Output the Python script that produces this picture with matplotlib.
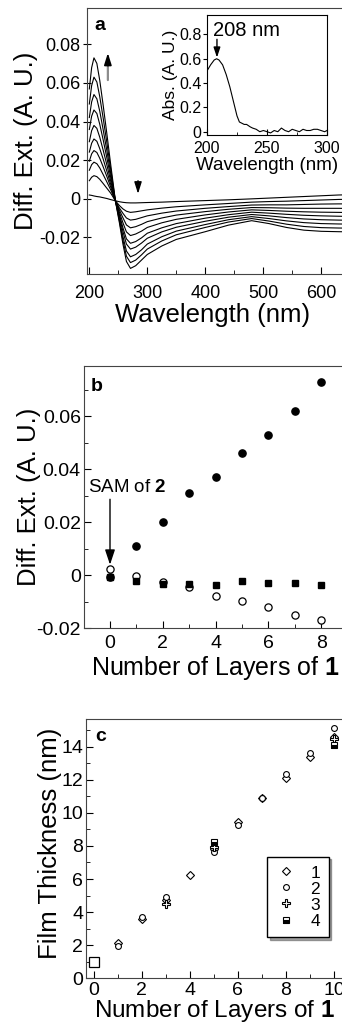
import numpy as np
import matplotlib
matplotlib.use('Agg')
import matplotlib.pyplot as plt
from matplotlib.ticker import MultipleLocator, FuncFormatter

plt.rcParams['font.family'] = ['Liberation Sans', 'DejaVu Sans']
plt.rcParams['mathtext.fontset'] = 'custom'
plt.rcParams['mathtext.rm'] = 'Liberation Sans'
plt.rcParams['mathtext.bf'] = 'Liberation Sans:bold'
plt.rcParams['axes.unicode_minus'] = False

# ---- panel a: difference extinction spectra (one row per deposition step)
wavelength = [200, 204, 208, 213, 218, 224, 230, 237, 245, 252, 258, 264, 271, 280,
              290, 300, 325, 350, 400, 440, 480, 510, 540, 570, 600, 630, 660]
diff_ext = [
    [0.0020, 0.0018, 0.0015, 0.0012, 0.0010, 0.0006, 0.0002, -0.0004, -0.0010, -0.0015, -0.0018, -0.0020, -0.0021, -0.0021,
     -0.0020, -0.0019, -0.0017, -0.0014, -0.0009, -0.0005, 0.0000, 0.0004, 0.0008, 0.0012, 0.0016, 0.0020, 0.0022],
    [0.0094, 0.0112, 0.0120, 0.0115, 0.0101, 0.0079, 0.0056, 0.0029, -0.0010, -0.0035, -0.0052, -0.0064, -0.0070, -0.0067,
     -0.0062, -0.0057, -0.0048, -0.0041, -0.0031, -0.0024, -0.0017, -0.0014, -0.0012, -0.0009, -0.0006, -0.0003, -0.0002],
    [0.0148, 0.0177, 0.0190, 0.0182, 0.0160, 0.0125, 0.0089, 0.0046, -0.0010, -0.0048, -0.0075, -0.0099, -0.0110, -0.0106,
     -0.0097, -0.0088, -0.0074, -0.0063, -0.0049, -0.0040, -0.0032, -0.0031, -0.0031, -0.0029, -0.0027, -0.0026, -0.0026],
    [0.0195, 0.0233, 0.0250, 0.0240, 0.0210, 0.0165, 0.0118, 0.0060, -0.0010, -0.0058, -0.0098, -0.0135, -0.0150, -0.0144,
     -0.0132, -0.0118, -0.0099, -0.0084, -0.0066, -0.0054, -0.0045, -0.0046, -0.0048, -0.0049, -0.0049, -0.0049, -0.0050],
    [0.0242, 0.0288, 0.0310, 0.0298, 0.0260, 0.0205, 0.0146, 0.0074, -0.0010, -0.0070, -0.0124, -0.0171, -0.0190, -0.0182,
     -0.0167, -0.0148, -0.0124, -0.0106, -0.0083, -0.0068, -0.0057, -0.0060, -0.0064, -0.0067, -0.0069, -0.0070, -0.0071],
    [0.0296, 0.0353, 0.0380, 0.0365, 0.0319, 0.0251, 0.0179, 0.0091, -0.0010, -0.0082, -0.0150, -0.0207, -0.0230, -0.0221,
     -0.0202, -0.0178, -0.0150, -0.0128, -0.0100, -0.0082, -0.0069, -0.0074, -0.0080, -0.0085, -0.0088, -0.0090, -0.0091],
    [0.0359, 0.0428, 0.0460, 0.0442, 0.0386, 0.0304, 0.0216, 0.0110, -0.0010, -0.0092, -0.0169, -0.0234, -0.0260, -0.0250,
     -0.0229, -0.0204, -0.0171, -0.0147, -0.0116, -0.0095, -0.0081, -0.0088, -0.0097, -0.0104, -0.0108, -0.0110, -0.0111],
    [0.0421, 0.0502, 0.0540, 0.0518, 0.0454, 0.0356, 0.0254, 0.0130, -0.0010, -0.0105, -0.0195, -0.0270, -0.0300, -0.0288,
     -0.0264, -0.0234, -0.0196, -0.0167, -0.0133, -0.0108, -0.0092, -0.0102, -0.0114, -0.0123, -0.0128, -0.0130, -0.0131],
    [0.0491, 0.0586, 0.0630, 0.0605, 0.0529, 0.0416, 0.0296, 0.0151, -0.0010, -0.0116, -0.0215, -0.0297, -0.0330, -0.0317,
     -0.0290, -0.0260, -0.0218, -0.0186, -0.0148, -0.0120, -0.0102, -0.0115, -0.0131, -0.0143, -0.0149, -0.0151, -0.0152],
    [0.0569, 0.0679, 0.0730, 0.0701, 0.0613, 0.0482, 0.0343, 0.0175, -0.0010, -0.0126, -0.0234, -0.0324, -0.0360, -0.0346,
     -0.0317, -0.0288, -0.0244, -0.0210, -0.0170, -0.0136, -0.0113, -0.0128, -0.0148, -0.0162, -0.0168, -0.0170, -0.0171],
]

# inset: absorbance spectrum of 1 in solution
inset_wl = [200, 203, 206, 208, 210, 213, 216, 219, 222, 225, 227, 229, 231, 233, 236, 238, 241, 244, 247,
            250, 253, 256, 259, 262, 265, 268, 271, 274, 277, 280, 283, 286, 289, 292, 295, 298, 300]
inset_abs = [0.50, 0.55, 0.59, 0.60, 0.59, 0.55, 0.47, 0.37, 0.25, 0.13, 0.08, 0.07, 0.06, 0.06, 0.04, 0.03, 0.02, 0.00, 0.01,
             0.00, -0.01, 0.01, 0.00, 0.03, 0.01, 0.00, 0.02, 0.01, 0.00, 0.02, 0.01, 0.01, 0.02, 0.02, 0.01, 0.00, 0.01]

# ---- panel b
layers_b = [0, 1, 2, 3, 4, 5, 6, 7, 8]
peak_208 = [-0.0005, 0.011, 0.020, 0.031, 0.037, 0.046, 0.053, 0.062, 0.073]
long_wl = [0.0024, -0.0001, -0.0024, -0.0046, -0.0077, -0.0097, -0.0120, -0.0148, -0.0170]
iso_pt = [-0.0008, -0.0021, -0.0031, -0.0031, -0.0038, -0.0021, -0.0029, -0.0029, -0.0038]

# ---- panel c: film thickness, four samples
layers_1 = [1, 2, 3, 4, 5, 6, 7, 8, 9, 10]
thick_1 = [2.15, 3.56, 4.75, 6.24, 7.80, 9.43, 10.90, 12.08, 13.35, 14.60]
layers_2 = [1, 2, 3, 5, 6, 7, 8, 9, 10]
thick_2 = [1.95, 3.72, 4.90, 7.66, 9.27, 10.92, 12.33, 13.63, 15.10]
layers_3 = [3, 5, 10]
thick_3 = [4.50, 7.96, 14.44]
layers_4 = [5, 10]
thick_4 = [8.26, 14.10]
sam_layer = [0]
sam_thick = [1.0]

W, H = 342, 1026
fig = plt.figure(figsize=(W / 100, H / 100), dpi=100)


def px_axes(left, top, right, bottom):
    return fig.add_axes([left / W, 1 - bottom / H, (right - left) / W, (bottom - top) / H])


def short_fmt(v, pos):
    if abs(v) < 1e-12:
        return '0'
    return f'{v:g}'


def arrow(axis, xy, xytext, shaft='black', head=0.6, width=0.2, lw=1.0):
    axis.annotate('', xy=xy, xytext=xytext,
                  arrowprops=dict(arrowstyle=f'-|>,head_length={head},head_width={width}',
                                  facecolor='black', edgecolor=shaft, lw=lw,
                                  shrinkA=0, shrinkB=0))


# ---------------- panel a
ax = px_axes(87, 8, 356, 274)
for row in diff_ext:
    ax.plot(wavelength, row, color='black', lw=0.8)
ax.set_xlim(196, 660)
ax.set_ylim(-0.0389, 0.0988)
ax.set_xticks([200, 300, 400, 500, 600])
ax.xaxis.set_minor_locator(MultipleLocator(50))
ax.set_yticks([-0.02, 0, 0.02, 0.04, 0.06, 0.08])
ax.yaxis.set_major_formatter(FuncFormatter(short_fmt))
ax.tick_params(axis='x', which='major', direction='in', length=5, labelsize=13, pad=8)
ax.tick_params(axis='x', which='minor', direction='in', length=3)
ax.tick_params(axis='y', direction='inout', length=6, labelsize=13, pad=2)
ax.set_xlabel('Wavelength (nm)', fontsize=18.5, va='center')
ax.xaxis.set_label_coords(0.465, -0.156)
ax.set_ylabel('Diff. Ext. (A. U.)', fontsize=18.5, va='center')
ax.yaxis.set_label_coords(-0.227, 0.5)
ax.text(196 + 22, 0.0895, 'a', fontsize=14, fontweight='bold', ha='center', va='center')
# gray shaft, black head for the rising peak
ax.annotate('', xy=(232, 0.0700), xytext=(232, 0.0615),
            arrowprops=dict(arrowstyle='-', color='#8c8c8c', lw=1.6, shrinkA=0, shrinkB=0))
arrow(ax, (232, 0.0755), (232, 0.0690), head=0.7, width=0.22, lw=1.2)
arrow(ax, (284, 0.0026), (284, 0.0094), head=0.7, width=0.22, lw=1.0)
for s in ax.spines.values():
    s.set_color('#444444')

# inset
axi = px_axes(207, 15, 327, 135)
axi.plot(inset_wl, inset_abs, color='black', lw=0.8)
axi.set_xlim(200, 300)
axi.set_ylim(-0.027, 0.96)
axi.set_xticks([200, 250, 300])
axi.xaxis.set_minor_locator(MultipleLocator(25))
axi.set_yticks([0, 0.2, 0.4, 0.6, 0.8])
axi.yaxis.set_major_formatter(FuncFormatter(short_fmt))
axi.tick_params(axis='x', which='major', direction='in', length=4, labelsize=11.5, pad=4)
axi.tick_params(axis='x', which='minor', direction='in', length=2.5)
axi.tick_params(axis='y', direction='out', length=3, labelsize=11.5, pad=1)
axi.set_xlabel('Wavelength (nm)', fontsize=13.5, labelpad=1)
axi.set_ylabel('Abs. (A. U.)', fontsize=12.5, labelpad=1)
axi.text(205, 0.83, '208 nm', fontsize=14.5, ha='left', va='center')
arrow(axi, (208.3, 0.61), (208.3, 0.76), head=0.6, width=0.2)

# ---------------- panel b
axb = px_axes(83.6, 366, 347.6, 628.3)
axb.plot(layers_b, peak_208, 'o', color='black', ms=5.2, ls='none')
axb.plot(layers_b, long_wl, 'o', mfc='white', mec='black', mew=0.9, ms=5.2, ls='none')
axb.plot(layers_b, iso_pt, 's', color='black', ms=3.8, ls='none')
axb.set_xlim(-1, 9)
axb.set_ylim(-0.02, 0.079)
axb.set_xticks([0, 2, 4, 6, 8])
axb.xaxis.set_minor_locator(MultipleLocator(1))
axb.set_yticks([-0.02, 0, 0.02, 0.04, 0.06])
axb.yaxis.set_minor_locator(MultipleLocator(0.01))
axb.yaxis.set_major_formatter(FuncFormatter(short_fmt))
axb.tick_params(which='major', direction='in', length=5, labelsize=14)
axb.tick_params(which='minor', direction='in', length=3)
axb.tick_params(axis='x', pad=5)
axb.tick_params(axis='y', pad=2)
axb.set_xlabel('Number of Layers of $\\mathbf{1}$', fontsize=18, va='center')
axb.xaxis.set_label_coords(0.498, -0.153)
axb.set_ylabel('Diff. Ext. (A. U.)', fontsize=18.5, va='center')
axb.yaxis.set_label_coords(-0.207, 0.502)
axb.text(-0.5, 0.0713, 'b', fontsize=14, fontweight='bold', ha='center', va='center')
axb.text(-0.85, 0.0331, 'SAM of $\\mathbf{2}$', fontsize=13.5, ha='left', va='center')
arrow(axb, (0, 0.0040), (0, 0.0287), head=0.9, width=0.3)
for s in axb.spines.values():
    s.set_color('#444444')

# ---------------- panel c
axc = px_axes(86, 719, 348, 978.3)
axc.plot(sam_layer, sam_thick, 's', mfc='white', mec='black', mew=0.9, ms=7.5, ls='none')
axc.plot(layers_1, thick_1, 'D', mfc='white', mec='black', mew=0.8, ms=4.2, ls='none', label='1')
axc.plot(layers_2, thick_2, 'o', mfc='white', mec='black', mew=0.8, ms=4.2, ls='none', label='2')
axc.plot(layers_3, thick_3, 'P', mfc='white', mec='black', mew=0.8, ms=6.0, ls='none', label='3')
axc.plot(layers_4, thick_4, 's', color='black', mfc='black', mfcalt='white', fillstyle='bottom',
         mec='black', mew=0.8, ms=4.0, ls='none', label='4')
axc.set_xlim(-0.32, 10.58)
axc.set_ylim(0, 15.67)
axc.set_xticks([0, 2, 4, 6, 8, 10])
axc.xaxis.set_minor_locator(MultipleLocator(1))
axc.set_yticks([0, 2, 4, 6, 8, 10, 12, 14])
axc.yaxis.set_minor_locator(MultipleLocator(1))
axc.tick_params(which='major', direction='in', length=5, labelsize=14)
axc.tick_params(which='minor', direction='in', length=3)
axc.tick_params(axis='x', pad=3)
axc.tick_params(axis='y', pad=2)
axc.set_xlabel('Number of Layers of $\\mathbf{1}$', fontsize=17.5, va='center')
axc.xaxis.set_label_coords(0.489, -0.128)
axc.set_ylabel('Film Thickness (nm)', fontsize=18.5, va='center')
axc.yaxis.set_label_coords(-0.137, 0.52)
axc.text(0.28, 14.6, 'c', fontsize=14, fontweight='bold', ha='center', va='center')
leg = axc.legend(loc='upper left', bbox_to_anchor=(0.69, 0.469), fontsize=12.5,
                 frameon=True, fancybox=False, shadow=True, edgecolor='black',
                 handlelength=1.2, handletextpad=0.8, borderpad=0.5, labelspacing=0.05,
                 borderaxespad=0)
leg.get_frame().set_linewidth(1.0)
for s in axc.spines.values():
    s.set_color('#444444')

fig.savefig('out.png', dpi=100)
